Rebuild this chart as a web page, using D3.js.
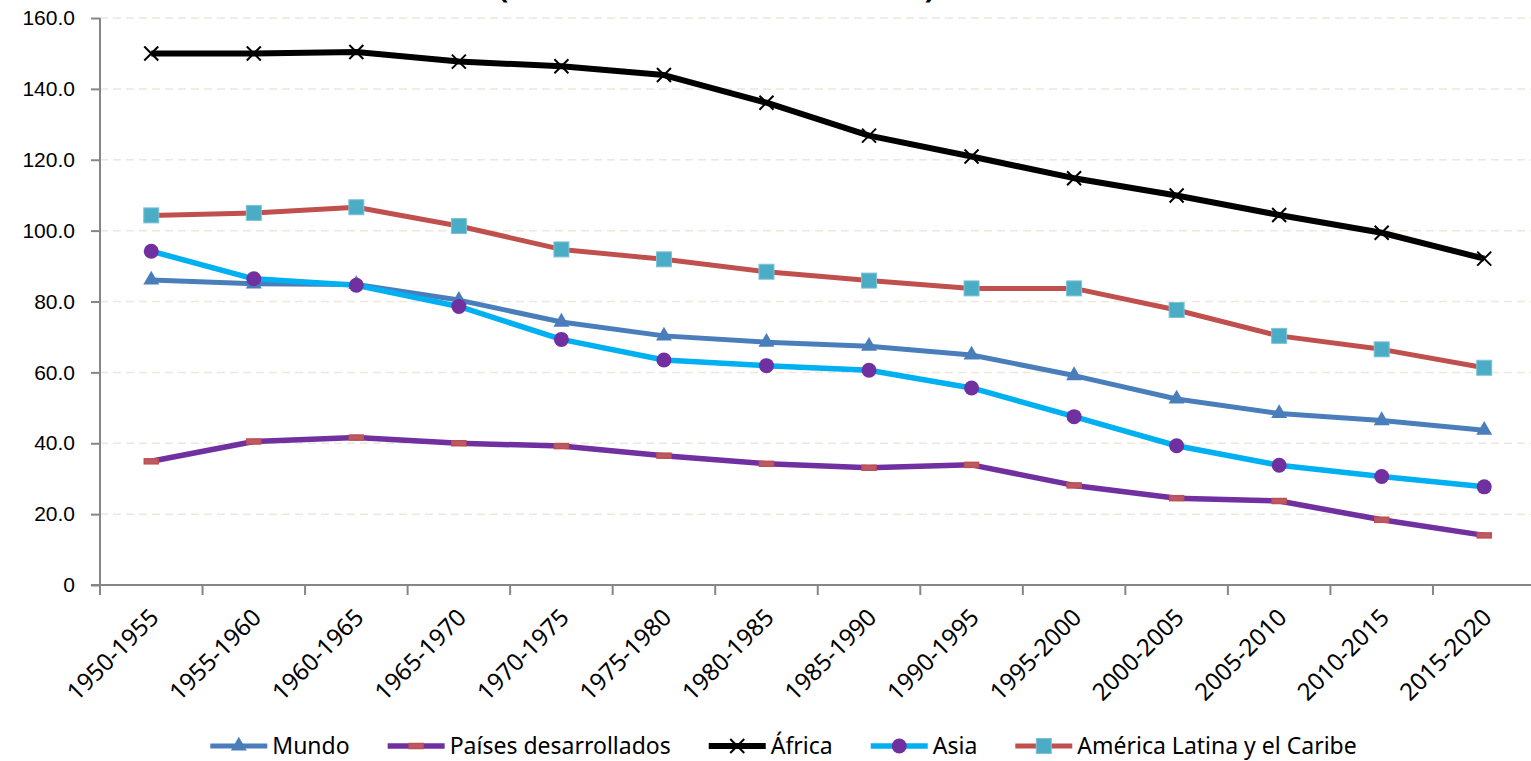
<!DOCTYPE html>
<html>
<head>
<meta charset="utf-8">
<script src="https://cdn.jsdelivr.net/npm/d3@7"></script>
<style>
  body { margin: 0; background: #fff; }
  svg { display: block; font-family: "Noto Sans", sans-serif; }
</style>
</head>
<body>
<script>
// periodos quinquenales
const periodos = ["1950-1955", "1955-1960", "1960-1965", "1965-1970", "1970-1975", "1975-1980",
  "1980-1985", "1985-1990", "1990-1995", "1995-2000", "2000-2005", "2005-2010", "2010-2015", "2015-2020"];

const mundo = [86.1, 85.0, 84.8, 80.4, 74.2, 70.3, 68.5, 67.4, 64.9, 59.1, 52.5, 48.4, 46.4, 43.7];
const paisesDesarrollados = [34.9, 40.5, 41.6, 40.0, 39.2, 36.5, 34.2, 33.1, 33.9, 28.1, 24.5, 23.7, 18.4, 14.0];
const africa = [150.0, 150.0, 150.4, 147.7, 146.4, 143.9, 136.1, 126.8, 120.9, 114.8, 109.9, 104.4, 99.4, 92.1];
const asia = [94.2, 86.4, 84.6, 78.6, 69.3, 63.5, 61.9, 60.6, 55.6, 47.5, 39.3, 33.8, 30.6, 27.7];
const americaLatina = [104.3, 105.0, 106.6, 101.3, 94.7, 91.9, 88.4, 85.9, 83.7, 83.7, 77.6, 70.3, 66.5, 61.3];

const yTicks = [0, 20, 40, 60, 80, 100, 120, 140, 160];

const series = [
  { nom: "Mundo", val: mundo, ligne: "#4a7ebb", larg: 5, marq: "triangle", coul: "#4a7ebb" },
  { nom: "Países desarrollados", val: paisesDesarrollados, ligne: "#7030a0", larg: 5.5, marq: "dash", coul: "#c0504d" },
  { nom: "África", val: africa, ligne: "#000000", larg: 6, marq: "x", coul: "#000000" },
  { nom: "Asia", val: asia, ligne: "#00b0f0", larg: 5.5, marq: "circle", coul: "#7030a0" },
  { nom: "América Latina y el Caribe", val: americaLatina, ligne: "#c0504d", larg: 5, marq: "square", coul: "#4bacc6" }
];

const largeur = 1531, hauteur = 761;
const gauche = 100, droite = 1535.5, haut = 18, bas = 585;

const svg = d3.select("body").append("svg")
  .attr("width", largeur)
  .attr("height", hauteur);

const x = d3.scaleBand().domain(periodos).range([gauche, droite]);
const y = d3.scaleLinear().domain([0, 160]).range([bas, haut]);
const cx = (i) => x(periodos[i]) + x.bandwidth() / 2;

// titre coupé en haut (on n'en voit que le bas des parenthèses)
svg.append("text")
  .attr("x", 498)
  .attr("y", -2)
  .attr("textLength", 437)
  .attr("lengthAdjust", "spacingAndGlyphs")
  .style("font-size", "26px")
  .style("font-weight", "bold")
  .text("(Tasa de mortalidad infantil)");

// grille
svg.append("g")
  .selectAll("line")
  .data(yTicks.filter((d) => d > 0))
  .join("line")
  .attr("x1", gauche)
  .attr("x2", largeur)
  .attr("y1", (d) => y(d))
  .attr("y2", (d) => y(d))
  .attr("stroke", "#ece8dc")
  .attr("stroke-width", 1.5)
  .attr("stroke-dasharray", "8,5");

// axe Y
const axeY = svg.append("g")
  .attr("transform", `translate(${gauche},0)`)
  .call(d3.axisLeft(y).tickValues(yTicks).tickSize(9).tickPadding(16)
    .tickFormat((d) => (d === 0 ? "0" : d.toFixed(1))));
axeY.select(".domain").attr("stroke", "#868686").attr("stroke-width", 2).attr("d", `M0,${haut}V${bas + 3}`);
axeY.selectAll(".tick line").attr("stroke", "#868686").attr("stroke-width", 2);
axeY.selectAll("text").style("font-size", "21px").attr("fill", "#000");

// axe X
const axeX = svg.append("g").attr("transform", `translate(0,${bas})`);
axeX.append("line")
  .attr("x1", gauche - 9).attr("x2", largeur)
  .attr("stroke", "#868686").attr("stroke-width", 2);
axeX.selectAll("line.tic")
  .data(periodos)
  .join("line")
  .attr("class", "tic")
  .attr("x1", (d) => x(d)).attr("x2", (d) => x(d))
  .attr("y1", 0).attr("y2", 10)
  .attr("stroke", "#868686").attr("stroke-width", 2);
axeX.selectAll("text")
  .data(periodos)
  .join("text")
  .attr("transform", (d) => `translate(${x(d) + x.bandwidth() / 2 + 3},${28}) rotate(-45)`)
  .attr("text-anchor", "end")
  .attr("dy", "0.35em")
  .style("font-size", "24px")
  .text((d) => d);

// marqueurs
const dessineMarq = (g, s, px, py) => {
  if (s.marq === "triangle") {
    g.append("path")
      .attr("d", d3.symbol(d3.symbolTriangle, 110)())
      .attr("transform", `translate(${px},${py})`)
      .attr("fill", s.coul);
  } else if (s.marq === "circle") {
    g.append("circle").attr("cx", px).attr("cy", py).attr("r", 7.5).attr("fill", s.coul);
  } else if (s.marq === "square") {
    g.append("rect").attr("x", px - 7.5).attr("y", py - 7.5).attr("width", 15).attr("height", 15)
      .attr("fill", s.coul).attr("stroke", "#7cc3d6").attr("stroke-width", 1);
  } else if (s.marq === "x") {
    g.append("path")
      .attr("d", `M${px - 7},${py - 7}L${px + 7},${py + 7}M${px + 7},${py - 7}L${px - 7},${py + 7}`)
      .attr("stroke", s.coul).attr("stroke-width", 2).attr("fill", "none");
  } else if (s.marq === "dash") {
    g.append("rect").attr("x", px - 7).attr("y", py - 2.5).attr("width", 14).attr("height", 5)
      .attr("fill", "#b95a6a").attr("stroke", s.coul).attr("stroke-width", 1.5);
  }
};

const ligne = d3.line()
  .x((d, i) => cx(i))
  .y((d) => y(d));

series.forEach((s) => {
  const g = svg.append("g");
  g.append("path")
    .datum(s.val)
    .attr("d", ligne)
    .attr("fill", "none")
    .attr("stroke", s.ligne)
    .attr("stroke-width", s.larg)
    .attr("stroke-linejoin", "round");
  s.val.forEach((v, i) => dessineMarq(g, s, cx(i), y(v)));
});

// légende
const leg = svg.append("g");
let pos = 0;
series.forEach((s) => {
  const g = leg.append("g").attr("transform", `translate(${pos},0)`);
  g.append("line").attr("x1", 0).attr("x2", 57).attr("y1", 0).attr("y2", 0)
    .attr("stroke", s.ligne).attr("stroke-width", s.larg);
  dessineMarq(g, s, 28.5, 0);
  const t = g.append("text").attr("x", 62).attr("y", 0).attr("dy", "0.33em")
    .style("font-size", "23px").text(s.nom);
  pos += 62 + t.node().getComputedTextLength() + 38;
});
const total = pos - 38;
leg.attr("transform", `translate(${783.5 - total / 2},746)`);
</script>
</body>
</html>
